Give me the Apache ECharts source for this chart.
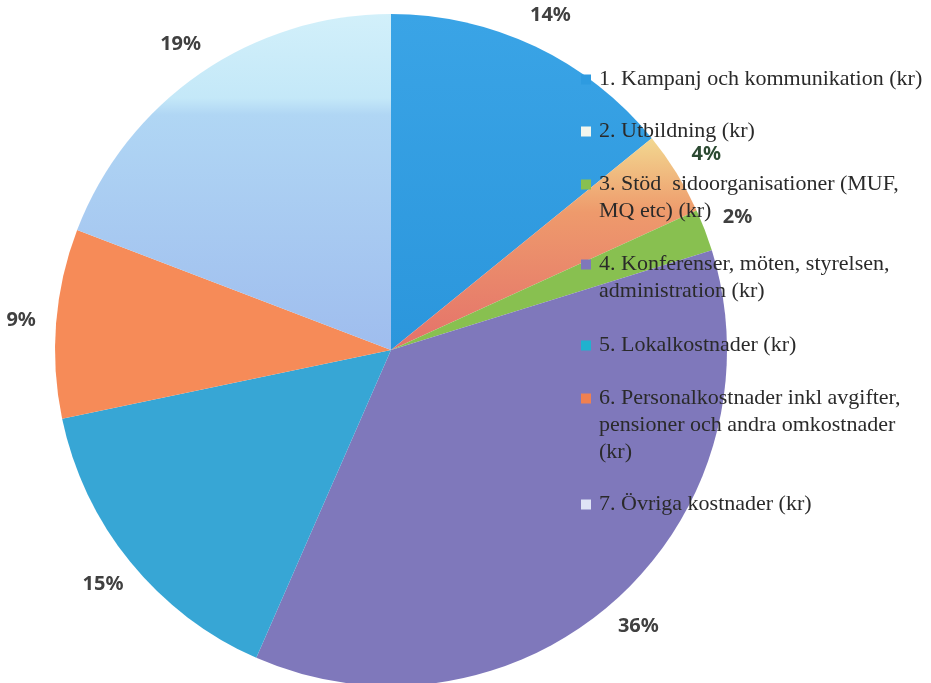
<!DOCTYPE html>
<html>
	<head>
		<meta charset="UTF-8">
		<script src="https://cdn.jsdelivr.net/npm/echarts@6/dist/echarts.min.js"></script>
		<title></title>
		<style>
			body{margin:0;background:#fff;}
		</style>
	</head>
	<body>
		<div id="main" style="width:931px;height:683px;"></div>
	</body>
	<script>
		// kategorier (legend text) och andelar i procent
		var categories = [
			'1. Kampanj och kommunikation (kr)',
			'2. Utbildning (kr)',
			'3. Stöd  sidoorganisationer (MUF, MQ etc) (kr)',
			'4. Konferenser, möten, styrelsen, administration (kr)',
			'5. Lokalkostnader (kr)',
			'6. Personalkostnader inkl avgifter, pensioner och andra omkostnader (kr)',
			'7. Övriga kostnader (kr)'
		];
		var shares = [14, 4, 2, 36, 15, 9, 19];
		var colors = ['#2e9be0', '#e4736a', '#88c050', '#7f78bb', '#37a6d5', '#f68b58', '#a3c6ef'];
		var legendColors = ['#2e9be0', '#f2f6ee', '#88c050', '#7f78bb', '#1fb2cf', '#f08050', '#dfe4f6'];
		// radbrytningar som i originalet
		var legendText = [
			'1. Kampanj och kommunikation (kr)',
			'2. Utbildning (kr)',
			'3. Stöd  sidoorganisationer (MUF,\nMQ etc) (kr)',
			'4. Konferenser, möten, styrelsen,\nadministration (kr)',
			'5. Lokalkostnader (kr)',
			'6. Personalkostnader inkl avgifter,\npensioner och andra omkostnader\n(kr)',
			'7. Övriga kostnader (kr)'
		];
		// var legendens första rad ligger (y, mitten)
		var legendRowY = [78, 130, 183, 263, 344, 397, 503];

		var LH = 27; // radhöjd i legenden

		var myChart = echarts.init(document.getElementById('main'));

		var pieData = [], labelData = [];
		for (var i = 0; i < categories.length; i++) {
			var item = {name: categories[i], value: shares[i], itemStyle: {color: colors[i]}};
			if (i == 6) {
				item.itemStyle.color = new echarts.graphic.LinearGradient(0, 0, 0, 1, [
					{offset: 0, color: '#d2f0fa'},
					{offset: 0.25, color: '#c4e8f8'},
					{offset: 0.3, color: '#b0d6f4'},
					{offset: 1, color: '#9fbdee'}
				]);
			}
			if (i == 0) {
				item.itemStyle.color = new echarts.graphic.LinearGradient(0, 0, 0, 1, [
					{offset: 0, color: '#3aa4e6'},
					{offset: 1, color: '#2b96dc'}
				]);
			}
			if (i == 1) {
				item.itemStyle.color = new echarts.graphic.LinearGradient(0, 0, 0, 1, [
					{offset: 0, color: '#f2d890'},
					{offset: 0.35, color: '#ee9a6c'},
					{offset: 1, color: '#e4716a'}
				]);
			}
			pieData.push(item);
			var lab = {name: categories[i], value: shares[i]};
			if (i == 1) lab.label = {color: '#2c4a32'};
			labelData.push(lab);
		}

		// en legend per post, så att ikonen hamnar vid första raden
		var legends = [];
		for (var i = 0; i < categories.length; i++) {
			var lines = legendText[i].split('\n').length;
			var txt = '';
			for (var k = 1; k < lines; k++) txt += ' \n';
			txt += legendText[i];
			legends.push({
				orient: 'vertical',
				left: 581,
				top: legendRowY[i] - 12 - (lines - 1) * LH,
				padding: 0,
				icon: 'rect',
				itemWidth: 10,
				itemHeight: 10,
				data: [{name: categories[i], itemStyle: {color: legendColors[i]}}],
				formatter: (function (t) { return function () { return t; }; })(txt),
				textStyle: {
					fontFamily: 'Liberation Serif',
					fontSize: 22,
					lineHeight: LH,
					color: '#2a2a2a',
					padding: [0, 0, 0, 3]
				}
			});
		}

		myChart.setOption({
			animation: false,
			legend: legends,
			series: [
				{
					type: 'pie',
					center: [391, 350],
					radius: 336,
					startAngle: 90,
					data: pieData,
					label: {show: false},
					labelLine: {show: false},
					emphasis: {disabled: true}
				},
				{
					// osynlig ring som bär procentetiketterna
					type: 'pie',
					center: [391, 350],
					radius: [348, 388],
					startAngle: 90,
					silent: true,
					data: labelData,
					itemStyle: {color: 'rgba(0,0,0,0)'},
					label: {
						show: true,
						position: 'inside',
						formatter: '{c}%',
						fontFamily: 'Noto Sans',
						fontWeight: 'bold',
						fontSize: 20,
						color: '#404040'
					},
					labelLine: {show: false},
					emphasis: {disabled: true}
				}
			]
		});
	</script>
</html>
